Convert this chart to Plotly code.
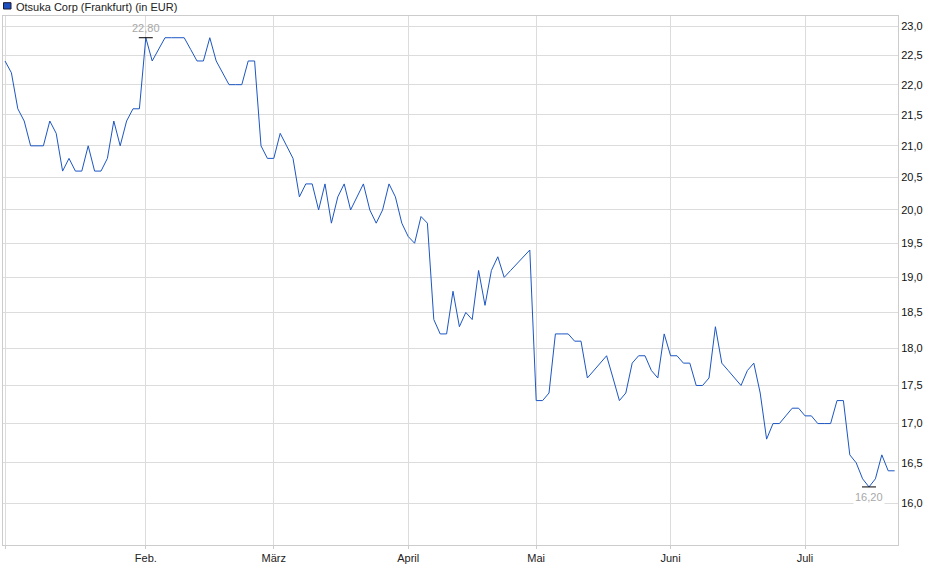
import math

import pandas as pd
import plotly.graph_objects as go

series_name = "Otsuka Corp (Frankfurt) (in EUR)"

# Schlusskurse je Handelstag (Börse Frankfurt, 2025)
jan = [22.4, 22.2, 21.6, 21.4, 21.0, 21.0, 21.0, 21.4, 21.2, 20.6, 20.8,
       20.6, 20.6, 21.0, 20.6, 20.6, 20.8, 21.4, 21.0, 21.4, 21.6, 21.6]
feb = [22.8, 22.4, 22.6, 22.8, 22.8, 22.8, 22.8, 22.6, 22.4, 22.4,
       22.8, 22.4, 22.2, 22.0, 22.0, 22.0, 22.4, 22.4, 21.0, 20.8]
mar = [20.8, 21.2, 21.0, 20.8, 20.2, 20.4, 20.4, 20.0, 20.4, 19.8, 20.2,
       20.4, 20.0, 20.2, 20.4, 20.0, 19.8, 20.0, 20.4, 20.2, 19.8]
apr = [19.6, 19.5, 19.9, 19.8, 18.4, 18.2, 18.2, 18.8, 18.3, 18.5,
       18.4, 19.1, 18.6, 19.1, 19.3, 19.0, 19.1, 19.2, 19.3, 19.4]
mai = [17.3, 17.3, 17.4, 18.2, 18.2, 18.2, 18.1, 18.1, 17.6, 17.7, 17.8,
       17.9, 17.6, 17.3, 17.4, 17.8, 17.9, 17.9, 17.7, 17.6, 18.2]
jun = [17.9, 17.9, 17.8, 17.8, 17.5, 17.5, 17.6, 18.3, 17.8, 17.7, 17.6,
       17.5, 17.7, 17.8, 17.4, 16.8, 17.0, 17.0, 17.1, 17.2, 17.2]
jul = [17.1, 17.1, 17.0, 17.0, 17.0, 17.3, 17.3, 16.6, 16.5, 16.3, 16.2,
       16.3, 16.6, 16.4, 16.4]

holidays = ["2025-04-18", "2025-04-21", "2025-05-01"]
month_ticks = ["2025-01-02", "2025-02-03", "2025-03-03", "2025-04-01",
               "2025-05-02", "2025-06-02", "2025-07-01"]
month_labels = ["", "Feb.", "März", "April", "Mai", "Juni", "Juli"]
y_ticks = [16.0, 16.5, 17.0, 17.5, 18.0, 18.5, 19.0, 19.5,
           20.0, 20.5, 21.0, 21.5, 22.0, 22.5, 23.0]

prices = jan + feb + mar + apr + mai + jun + jul
dates = pd.bdate_range("2025-01-02", "2025-07-21", freq="C", holidays=holidays)
df = pd.DataFrame({"datum": dates[: len(prices)], "kurs": prices})

i_max = df["kurs"].idxmax()
i_min = df["kurs"].idxmin()
hi = df.loc[[i_max, i_min]]

fig = go.Figure()
fig.add_trace(go.Scatter(
    x=df["datum"], y=df["kurs"], mode="lines", name=series_name,
    line=dict(color="#1c56c2", width=1),
))
# kleine Striche an Hoch und Tief
fig.add_trace(go.Scatter(
    x=hi["datum"], y=hi["kurs"], mode="markers", hoverinfo="skip",
    marker=dict(symbol="line-ew", size=10, line=dict(color="#000000", width=1)),
))

def fmt(v):
    return f"{v:.2f}".replace(".", ",")

# Annotationen auf Log-Achse brauchen log10-Werte
fig.add_annotation(
    x=df.loc[i_max, "datum"], y=math.log10(df.loc[i_max, "kurs"]),
    text=fmt(df.loc[i_max, "kurs"]),
    showarrow=False, yanchor="bottom", yshift=2,
    font=dict(size=11, color="#a8a8a8"),
)
fig.add_annotation(
    x=df.loc[i_min, "datum"], y=math.log10(df.loc[i_min, "kurs"]),
    text=fmt(df.loc[i_min, "kurs"]),
    showarrow=False, yanchor="top", yshift=-2, bgcolor="#ffffff", borderpad=1,
    font=dict(size=11, color="#a8a8a8"),
)

# Legende oben links
fig.add_shape(
    type="rect", xref="paper", yref="paper", xsizemode="pixel", ysizemode="pixel",
    xanchor=0, yanchor=1, x0=0.5, x1=8, y0=7, y1=13.3,
    fillcolor="#1c4fc0", line=dict(color="#1a1a2e", width=1),
)
fig.add_annotation(
    xref="paper", yref="paper", x=0, y=1, xshift=11, yshift=9,
    xanchor="left", yanchor="middle", text=series_name, showarrow=False,
    font=dict(size=11, color="#222222"),
)

fig.update_xaxes(
    type="date",
    range=["2025-01-01 16:30", "2025-07-21 12:45"],
    rangebreaks=[dict(bounds=["sat", "mon"]), dict(values=holidays)],
    tickvals=month_ticks, ticktext=month_labels,
    ticks="outside", ticklen=3, tickcolor="#cccccc",
    showgrid=True, gridcolor="#dcdcdc", gridwidth=1,
    showline=True, linecolor="#cccccc", mirror=True,
    tickfont=dict(size=11, color="#222222"),
    zeroline=False,
)
fig.update_yaxes(
    type="log", side="right",
    range=[1.19033, 1.36511],
    tickvals=y_ticks, tickformat=".1f",
    ticks="", showgrid=True, gridcolor="#dcdcdc", gridwidth=1,
    showline=True, linecolor="#cccccc", mirror=True,
    tickfont=dict(size=11, color="#111111"),
    zeroline=False,
)
fig.update_layout(
    width=940, height=579,
    margin=dict(l=3, r=42, t=16, b=34),
    paper_bgcolor="#ffffff", plot_bgcolor="#ffffff",
    showlegend=False, separators=",.",
    font=dict(family="Liberation Sans, Arial, sans-serif", size=11, color="#222222"),
)
fig.write_html("out.html", config={"displayModeBar": False},
               post_script="document.body.style.margin='0';")
